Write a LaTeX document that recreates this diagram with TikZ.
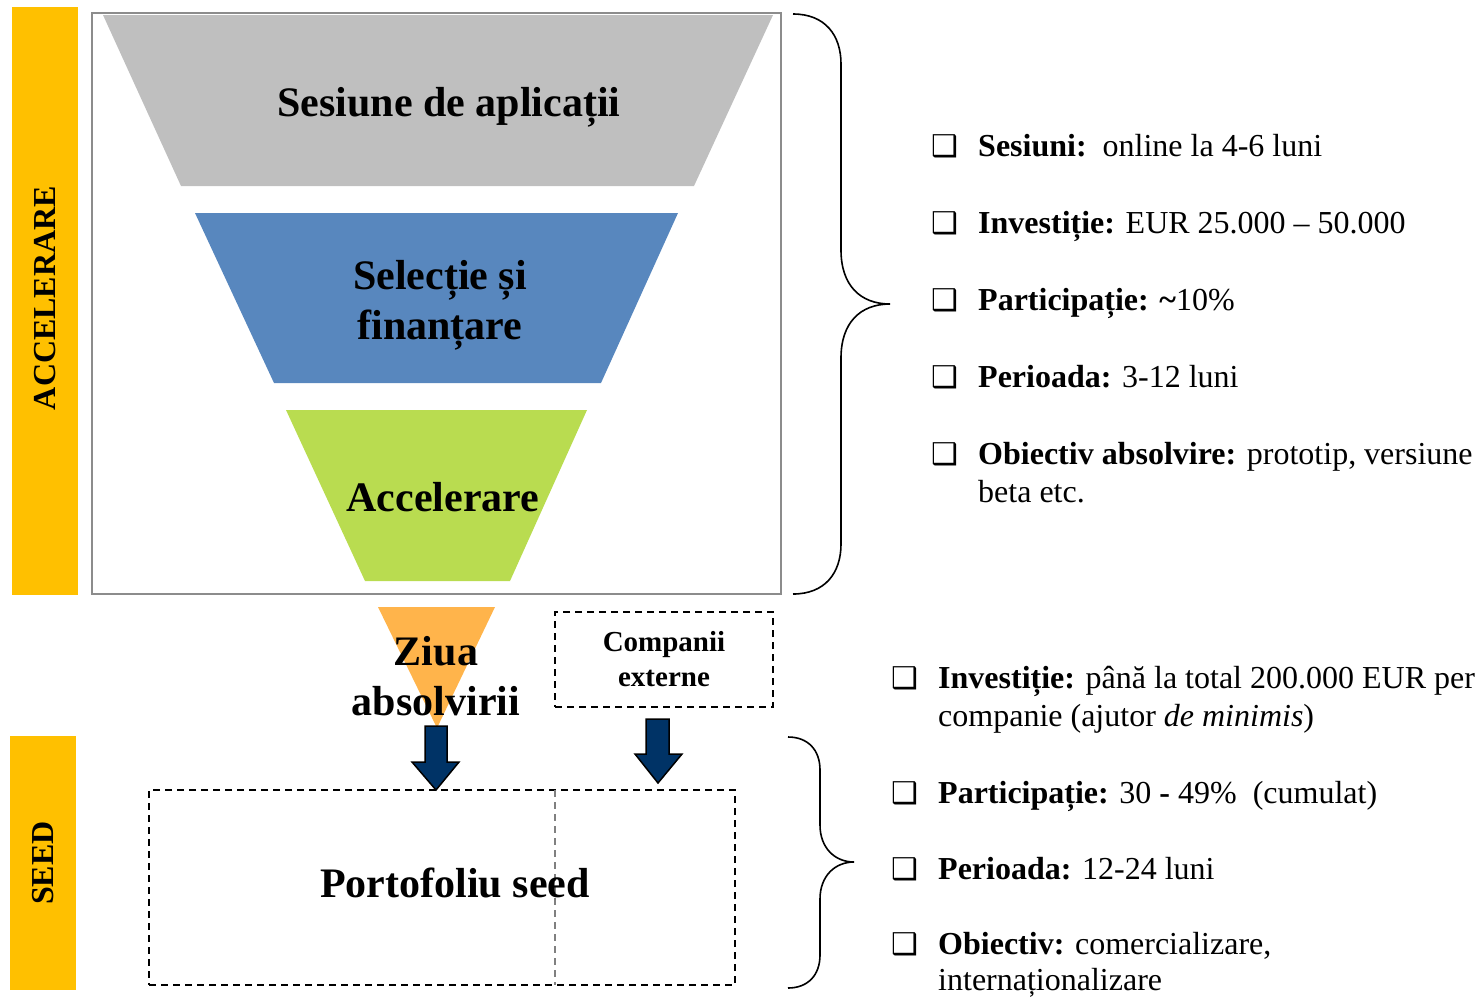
\documentclass[tikz,border=0pt]{standalone}
\usepackage{fontspec}
\setmainfont{Liberation Serif}
\newfontfamily\symfont{DejaVu Sans}
\definecolor{accelgalben}{RGB}{255,192,0}
\definecolor{funnelgri}{RGB}{191,191,191}
\definecolor{funnelalbastru}{RGB}{88,135,190}
\definecolor{funnelverde}{RGB}{185,220,80}
\definecolor{ziuaportocaliu}{RGB}{255,180,75}
\definecolor{pilnavy}{RGB}{0,51,102}
\definecolor{ramagri}{RGB}{140,140,140}
\newcommand{\cbox}{{\symfont\bfseries ❑}}
\begin{document}
\begin{tikzpicture}[x=1pt,y=-1pt,
  bar/.style={fill=accelgalben,draw=none},
  sidetxt/.style={rotate=90,font=\fontsize{32}{38}\selectfont\bfseries},
  funneltxt/.style={font=\fontsize{42}{50}\selectfont\bfseries,align=center},
  dashbox/.style={draw,line width=1.8pt,dash pattern=on 7pt off 5pt},
  listitem/.style={anchor=base west,font=\fontsize{32}{38}\selectfont,align=left,inner sep=0pt},
  chkbox/.style={anchor=base west,font=\fontsize{30}{32}\selectfont,inner sep=0pt},
  acolada/.style={line width=1.6pt},
  blockpil/.style={fill=pilnavy,draw=black,line width=1.5pt}]
  \useasboundingbox (0,0) rectangle (1480,997);
  % benzi laterale
  \fill[bar] (12,7) rectangle (78,595);
  \fill[bar] (10,736) rectangle (76,990);
  \node[sidetxt] (accelbar) at (45,298) {ACCELERARE};
  \node[sidetxt] (seedbar) at (43,863) {SEED};
  % palnia
  \draw[ramagri,line width=2pt] (92,13) rectangle (781,594);
  \fill[funnelgri] (103,15) -- (773,15) -- (694,186) -- (181,186) -- cycle;
  \fill[funnelalbastru] (195,213) -- (678,213) -- (601,383) -- (274,383) -- cycle;
  \fill[funnelverde] (286,410) -- (587,410) -- (510,581) -- (365,581) -- cycle;
  \fill[ziuaportocaliu] (378,607) -- (495,607) -- (437,728) -- cycle;
  \node[funneltxt] (sesiune) at (449,107) {Sesiune de aplicații};
  \node[funneltxt] (selectie) at (440,305) {Selecție și\\finanțare};
  \node[funneltxt] (accel) at (443,497) {Accelerare};
  \node[funneltxt] (ziua) at (436,676) {Ziua\\absolvirii};
  % companii externe si portofoliu
  \node[dashbox,minimum width=218pt,minimum height=95pt,align=center,
    font=\fontsize{29}{35}\selectfont\bfseries] (companii) at (664,659.5) {Companii\\externe};
  \node[dashbox,minimum width=586pt,minimum height=195pt] (seed) at (442,887.5) {};
  \draw[gray,line width=1.4pt,dash pattern=on 7pt off 5pt] (555,790) -- (555,985);
  \node[funneltxt] (portofoliu) at (455,883) {Portofoliu seed};
  % sageti
  \draw[blockpil] (425,726) -- (447,726) -- (447,762) -- (459,762) -- (436,790) -- (412,762) -- (425,762) -- cycle;
  \draw[blockpil] (646,719) -- (669,719) -- (669,754) -- (682,754) -- (658,783) -- (635,754) -- (646,754) -- cycle;
  % acolade
  \draw[acolada] (793,14) .. controls (825,14) and (841,35) .. (841,64) -- (841,250)
    .. controls (841,285) and (860,304) .. (890,304)
    .. controls (860,304) and (841,323) .. (841,358) -- (841,544)
    .. controls (841,573) and (825,594) .. (793,594);
  \draw[acolada] (788,737) .. controls (808,737) and (820,750) .. (820,770) -- (820,825)
    .. controls (820,848) and (835,862) .. (854,862)
    .. controls (835,862) and (820,876) .. (820,899) -- (820,955)
    .. controls (820,975) and (808,988) .. (788,988);
  % lista accelerare
  \node[chkbox] (c1) at (931,156) {\cbox};
  \node[chkbox] (c2) at (931,233) {\cbox};
  \node[chkbox] (c3) at (931,310) {\cbox};
  \node[chkbox] (c4) at (931,387) {\cbox};
  \node[chkbox] (c5) at (931,464) {\cbox};
  \node[listitem] (t1) at (978,156) {\textbf{Sesiuni:}\ \ online la 4-6 luni};
  \node[listitem] (t2) at (978,233) {\textbf{Investiție:} EUR 25.000 – 50.000};
  \node[listitem] (t3) at (978,310) {\textbf{Participație: \textasciitilde}10\%};
  \node[listitem] (t4) at (978,387) {\textbf{Perioada:} 3-12 luni};
  \node[listitem] (t5) at (978,502) {\textbf{Obiectiv absolvire:} prototip, versiune\\beta etc.};
  % lista seed
  \node[chkbox] (d1) at (891,688) {\cbox};
  \node[chkbox] (d2) at (891,803) {\cbox};
  \node[chkbox] (d3) at (891,879) {\cbox};
  \node[chkbox] (d4) at (891,954) {\cbox};
  \node[listitem] (s1) at (938,726) {\textbf{Investiție:} până la total 200.000 EUR per\\companie (ajutor \textit{de minimis})};
  \node[listitem] (s2) at (938,803) {\textbf{Participație:} 30 \textbf{-} 49\%\ \ (cumulat)};
  \node[listitem] (s3) at (938,879) {\textbf{Perioada:} 12-24 luni};
  \node[listitem,font=\fontsize{32}{36}\selectfont] (s4) at (938,990) {\textbf{Obiectiv:} comercializare,\\internaționalizare};
\end{tikzpicture}
\end{document}
